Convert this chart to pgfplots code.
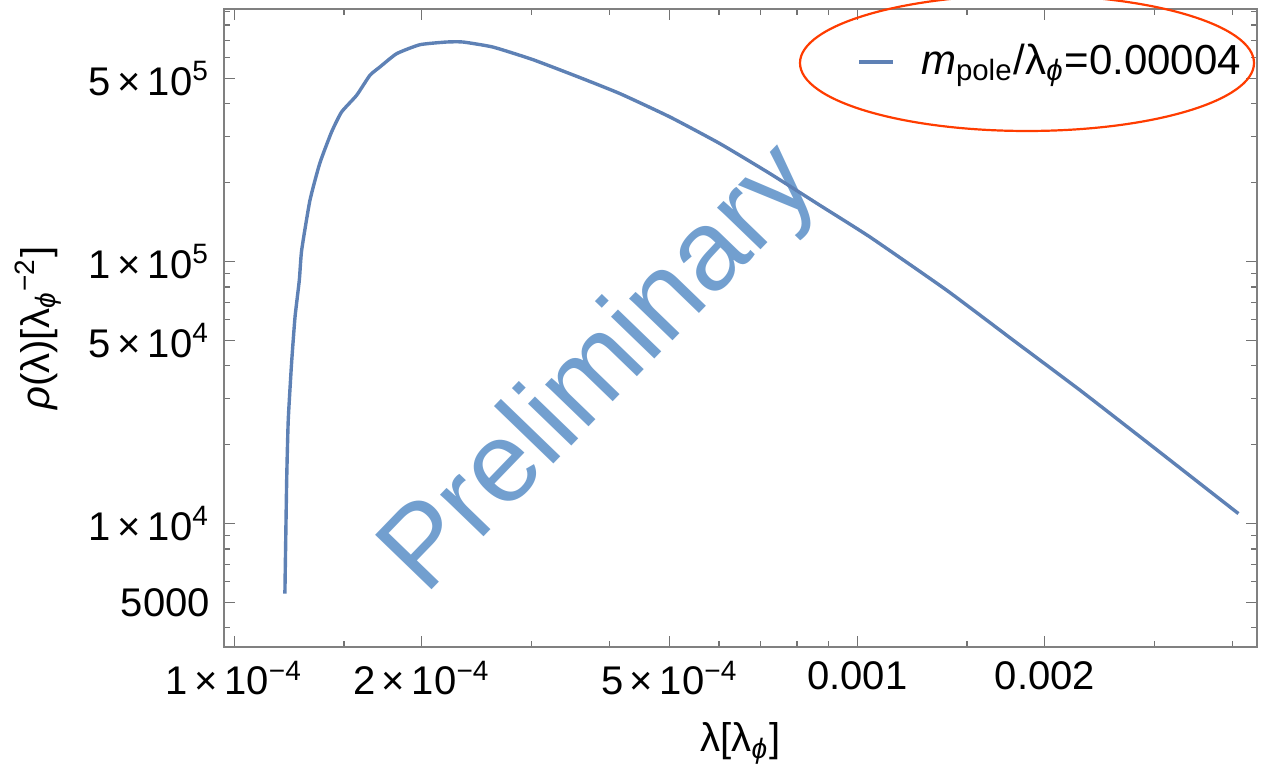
\documentclass[border=0pt]{standalone}
\usepackage{fontspec}
\setmainfont{Liberation Sans}
\usepackage{amsmath}
\usepackage{pgfplots}
\pgfplotsset{compat=1.18}
\definecolor{mblue}{RGB}{94,129,181}
\definecolor{wmark}{RGB}{114,159,207}
\definecolor{annot}{RGB}{255,60,0}

\begin{document}
\begin{tikzpicture}
\begin{axis}[
    name=ax,
    set layers,
    scale only axis,
    width=258.25pt, height=159.5pt,
    xmode=log, ymode=log,
    xmin=0.963e-4, xmax=4.38e-3,
    ymin=3381, ymax=9.21e5,
    xtick={1e-4,2e-4,5e-4,1e-3,2e-3},
    xticklabels={1\,×\,10\textsuperscript{−4}, 2\,×\,10\textsuperscript{−4}, 5\,×\,10\textsuperscript{−4}, 0.001, 0.002},
    minor xtick={1.5e-4,3e-4,4e-4,6e-4,7e-4,8e-4,9e-4,1.5e-3,3e-3,4e-3},
    ytick={5000,1e4,5e4,1e5,5e5},
    yticklabels={5000, 1\,×\,10\textsuperscript{4}, 5\,×\,10\textsuperscript{4}, 1\,×\,10\textsuperscript{5}, 5\,×\,10\textsuperscript{5}},
    minor ytick={4000,6000,7000,8000,9000,2e4,3e4,4e4,6e4,7e4,8e4,9e4,2e5,3e5,4e5,6e5,7e5,8e5,9e5},
    tick align=inside,
    major tick length=2.75pt,
    minor tick length=1.4pt,
    every tick/.style={black!55, line width=0.3pt},
    axis line style={black!50, line width=0.35pt},
    tick label style={font=\fontsize{10}{12}\selectfont},
    label style={font=\fontsize{10}{12}\selectfont},
    xlabel={λ[λ$_{\text{\itshape ϕ}}$]},
    ylabel={{\itshape ρ}(λ)[λ$_{\text{\itshape ϕ}}{}^{\text{−2}}$]},
    legend style={at={(0.993,0.917)}, anchor=east, draw=none, fill=none,
        font=\fontsize{10.5}{12}\selectfont, inner sep=0pt, column sep=4.5pt},
    legend cell align=left,
    legend image code/.code={\draw[#1] (0pt,0pt) -- (8.5pt,0pt);},
]
\node[on layer=pre main, rotate=46, text=wmark, font=\fontsize{28.5}{30}\selectfont]
    at (rel axis cs:0.366,0.432) {Preliminary};

\addplot[mblue, line width=0.85pt, line join=round, smooth, tension=0.3] coordinates {
    (1.206e-4, 5405)
    (1.214e-4, 14630)
    (1.221e-4, 24780)
    (1.236e-4, 40800)
    (1.252e-4, 61450)
    (1.272e-4, 84860)
    (1.283e-4, 110400)
    (1.323e-4, 171400)
    (1.372e-4, 237300)
    (1.433e-4, 312300)
    (1.487e-4, 372400)
    (1.572e-4, 431200)
    (1.651e-4, 514000)
    (1.713e-4, 553000)
    (1.823e-4, 622000)
    (1.987e-4, 673000)
    (2.193e-4, 689000)
    (2.329e-4, 689000)
    (2.602e-4, 659000)
    (3.016e-4, 590000)
    (3.588e-4, 504000)
    (4.16e-4, 437700)
    (5.005e-4, 356400)
    (6.02e-4, 282000)
    (7.243e-4, 216700)
    (8.71e-4, 164000)
    (1.048e-3, 124100)
    (1.392e-3, 77700)
    (1.78e-3, 50080)
    (2.278e-3, 32280)
    (2.914e-3, 20490)
    (3.727e-3, 12970)
    (4.089e-3, 10920)
};
\addlegendentry{{\itshape m}$_{\text{pole}}$/λ$_{\text{\itshape ϕ}}$=0.00004}
\end{axis}

% hand-drawn highlight round the legend
\begin{scope}
\clip ([xshift=-56pt,yshift=-30.25pt]ax.south west) rectangle ([xshift=1.5pt,yshift=2.25pt]ax.north east);
\draw[annot, line width=0.55pt] ([xshift=200.75pt,yshift=146pt]ax.south west) ellipse [x radius=56.75pt, y radius=17pt];
\end{scope}

\pgfresetboundingbox
\path[use as bounding box] ([xshift=-56pt,yshift=-30.25pt]ax.south west) rectangle ([xshift=1.5pt,yshift=2.25pt]ax.north east);
\end{tikzpicture}
\end{document}
